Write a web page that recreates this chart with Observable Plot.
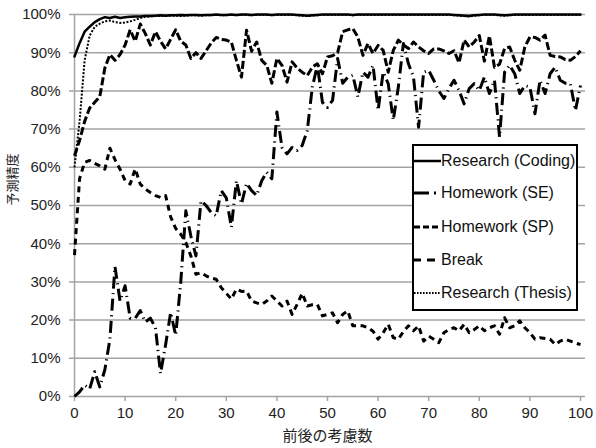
<!DOCTYPE html>
<html><head><meta charset="utf-8">
<script src="https://cdn.jsdelivr.net/npm/d3@7"></script>
<script src="https://cdn.jsdelivr.net/npm/@observablehq/plot@0.6"></script>
<style>
body{margin:0;background:#fff;}
#wrap{position:relative;width:596px;height:448px;}
#legend{position:absolute;left:412px;top:144px;width:162px;height:163px;border:2px solid #000;background:#fff;font-family:'Liberation Sans','Noto Sans CJK JP',sans-serif;font-size:16px;color:#111;}
.row{position:absolute;left:0;height:20px;display:flex;align-items:center;white-space:nowrap;}
.row svg{width:27px;height:6px;flex:none;}
</style></head><body><div id="wrap"><div id="legend"></div></div>
<script>
const seriesNames = ["Research (Coding)", "Homework (SE)", "Homework (SP)", "Break", "Research (Thesis)"];
const xTicks = [0, 10, 20, 30, 40, 50, 60, 70, 80, 90, 100];
const yTicks = [0, 10, 20, 30, 40, 50, 60, 70, 80, 90, 100];
const xLabel = "前後の考慮数";
const yLabel = "予測精度";

const coding = [89, 92.5, 95.5, 96.8, 98, 98.8, 99.3, 99.1, 99.4, 99.1,
99.3, 99.4, 99.5, 99.5, 99.6, 99.6, 99.7, 99.8, 99.7, 99.8,
99.8, 99.9, 99.8, 99.9, 99.9, 99.8, 99.9, 99.9, 100, 99.9,
99.9, 100, 99.9, 100, 100, 99.9, 100, 100, 100, 99.9,
100, 100, 100, 100, 99.9, 99.8, 99.7, 99.8, 99.9, 100,
100, 100, 100, 100, 100, 99.9, 100, 100, 100, 100,
100, 100, 100, 100, 100, 100, 100, 100, 100, 100,
100, 100, 100, 100, 100, 99.9, 99.8, 99.7, 99.6, 99.8,
99.9, 100, 100, 100, 99.9, 99.8, 99.9, 100, 100, 100,
100, 100, 100, 100, 100, 100, 100, 100, 100, 100, 100];

const homeworkSE = [0, 1.2, 3, 2, 6.5, 2.5, 7, 15, 34, 25,
29, 20.5, 20.5, 22.5, 19.5, 20.5, 18, 6, 13.5, 22,
16, 30, 48.6, 42, 36.8, 51.2, 50, 48.2, 47.3, 53.9,
52, 44.3, 56.5, 50.4, 55.8, 53.9, 52.6, 56.5, 58.7, 57,
74.5, 65.2, 63.5, 65.2, 64.4, 65.7, 69.6, 81, 86.7, 77,
75.7, 77.5, 88.5, 82, 83.6, 84.1, 78.4, 84.9, 83.6, 86.7,
74.9, 84.9, 81.9, 72.3, 81, 92.4, 87.1, 83.6, 70.5, 84.9,
85.4, 82.8, 80, 78, 80.6, 82.8, 80.1, 76.6, 80.6, 81.9,
80.1, 83.6, 79.3, 82.8, 67.9, 84.9, 86.7, 84.5, 79.3, 81.4,
81, 74, 82.8, 79.3, 84.5, 86.2, 82.8, 82, 81.9, 74.9, 81.4];

const homeworkSP = [63, 67, 72, 75.5, 77, 78.5, 86, 89.5, 88, 89.5,
92, 96, 93, 97.5, 95, 92, 95.5, 93, 91, 93.5,
96, 93, 92, 88.5, 90, 88.5, 90.5, 92.5, 94, 93.5,
93.3, 92.8, 88, 83.6, 95.9, 90.4, 92.8, 88, 86.7, 82,
88.5, 86.7, 82.3, 87.6, 86, 84.9, 84, 86.2, 87.1, 84.5,
88.9, 89.2, 90, 95.5, 96, 96.3, 94.1, 89.3, 92.4, 89.8,
91.9, 90.6, 84.9, 90.6, 93.3, 92, 91.1, 92.8, 91.5, 90.5,
89.8, 91, 91, 90.5, 89.8, 90.5, 87.4, 93.3, 91.5, 92.8,
94.5, 87.8, 94.4, 86.2, 87, 91.1, 91.5, 88, 85.4, 91.5,
94.1, 94, 93.3, 94.6, 89.3, 89, 88.9, 88.2, 88, 89, 90.5];

const breakTime = [37, 57, 61.3, 61.8, 61, 60.4, 59.5, 65, 62, 59.5,
56.5, 55.6, 59.6, 55.6, 54.3, 53.4, 52.6, 52.1, 52.6, 47,
44, 42.5, 40.3, 36.8, 32, 32.4, 31.6, 31, 30.7, 28.5,
27, 25.5, 28.1, 27.5, 27.6, 25, 24.5, 24.1, 25, 26.3,
25, 23.7, 25, 21.5, 24.1, 27, 23.7, 24, 24.1, 21.1,
21.5, 21.9, 19.3, 21.5, 22.4, 18.5, 18.5, 18.5, 18, 17.1,
15, 16.7, 18.9, 15.4, 15, 17, 18.5, 17.2, 18.5, 14.5,
15.8, 15, 14.1, 16.7, 17.5, 18, 17.2, 18.9, 16.7, 17.5,
18.5, 17.2, 18, 18.5, 16.3, 20.6, 18, 18.5, 19.8, 18,
16.7, 15, 15.4, 15.2, 15, 13.6, 14.5, 15, 14.5, 14, 13.6];

const thesis = [60, 72, 88, 94.5, 96.8, 97.6, 98.2, 98.4, 98, 97.8,
97.9, 98.2, 98.6, 99.1, 99.4, 99.5, 99.6, 99.6, 99.7, 99.7,
99.7, 99.6, 99.7, 99.8, 99.8, 99.7, 99.8, 99.8, 99.9, 99.8,
99.8, 99.9, 99.8, 99.9, 99.9, 99.8, 99.9, 99.9, 99.9, 99.8,
99.9, 99.9, 99.9, 99.9, 99.8, 99.7, 99.6, 99.7, 99.8, 99.9,
99.9, 99.9, 99.9, 99.9, 99.9, 99.8, 99.9, 99.9, 99.9, 99.9,
99.9, 99.9, 99.9, 99.9, 99.9, 99.9, 99.9, 99.9, 99.9, 99.9,
99.9, 99.9, 99.9, 99.9, 99.9, 99.8, 99.7, 99.6, 99.5, 99.7,
99.8, 99.9, 99.9, 99.9, 99.8, 99.7, 99.8, 99.9, 99.9, 99.9,
99.9, 99.9, 99.9, 99.9, 99.9, 99.9, 99.9, 99.9, 99.9, 99.9, 99.9];

const seriesValues = [coding, homeworkSE, homeworkSP, breakTime, thesis];
const styles = [
  {strokeWidth: 2.5, dash: null, legendDash: null, cap: "round"},
  {strokeWidth: 3, dash: "12,4.5,1.2,4.5", legendDash: "15,5,2,10", cap: "butt"},
  {strokeWidth: 3, dash: "8,3", legendDash: "6,3", cap: "butt"},
  {strokeWidth: 3, dash: "6,4.5", legendDash: "7,6,8,20", cap: "butt"},
  {strokeWidth: 2, dash: "2,1.6", legendDash: "1.6,1.4", cap: "butt"}
];

const toRows = vals => vals.map((v, i) => ({x: i, y: v}));
const drawOrder = [4, 3, 2, 1, 0];
const lineMarks = drawOrder.map(k => Plot.line(toRows(seriesValues[k]), {
  x: "x", y: "y", stroke: "#000", strokeWidth: styles[k].strokeWidth,
  strokeDasharray: styles[k].dash, strokeLinecap: styles[k].cap, strokeLinejoin: "round"
}));

const latin = "'Liberation Sans','Noto Sans CJK JP',sans-serif";
const chart = Plot.plot({
  width: 596, height: 448,
  marginLeft: 74, marginRight: 16, marginTop: 14, marginBottom: 52,
  style: {fontFamily: latin, fontSize: "15px", color: "#222", background: "#fff"},
  x: {domain: [0, 100]},
  y: {domain: [0, 100]},
  marks: [
    Plot.ruleY(yTicks, {stroke: "#a3a3a3", strokeWidth: 1.5, insetLeft: -5, insetRight: -5}),
    Plot.ruleX([0], {stroke: "#a3a3a3", strokeWidth: 1.5}),
    Plot.axisX({ticks: xTicks, tickSize: 5, tickPadding: 6, stroke: "#a3a3a3", strokeWidth: 1.5, fontSize: 15, label: null}),
    Plot.axisY({ticks: yTicks, tickSize: 0, tickPadding: 14, tickFormat: d => d + "%", fontSize: 15, label: null}),
    ...lineMarks,
    Plot.text([xLabel], {text: d => d, frameAnchor: "bottom", dy: 44, fontSize: 15, fontFamily: "Noto Sans CJK JP", fill: "#222"}),
    Plot.text([yLabel], {text: d => d, frameAnchor: "left", dx: -62, rotate: -90, fontSize: 13, fontFamily: "Noto Sans CJK JP", fill: "#222"})
  ]
});
const wrap = document.getElementById("wrap");
wrap.insertBefore(chart, wrap.firstChild);

const legend = document.getElementById("legend");
const centers = [14.7, 47.3, 80.7, 114, 147.3];
seriesNames.forEach((name, k) => {
  const row = document.createElement("div");
  row.className = "row";
  row.style.top = (centers[k] - 10) + "px";
  const s = styles[k];
  row.innerHTML = `<svg viewBox="0 0 27 6"><line x1="0" y1="3" x2="27" y2="3" stroke="#000" stroke-width="${s.strokeWidth}" ${s.legendDash ? `stroke-dasharray="${s.legendDash}"` : ""} stroke-linecap="butt"/></svg><span>${name}</span>`;
  legend.appendChild(row);
});
</script></body></html>
